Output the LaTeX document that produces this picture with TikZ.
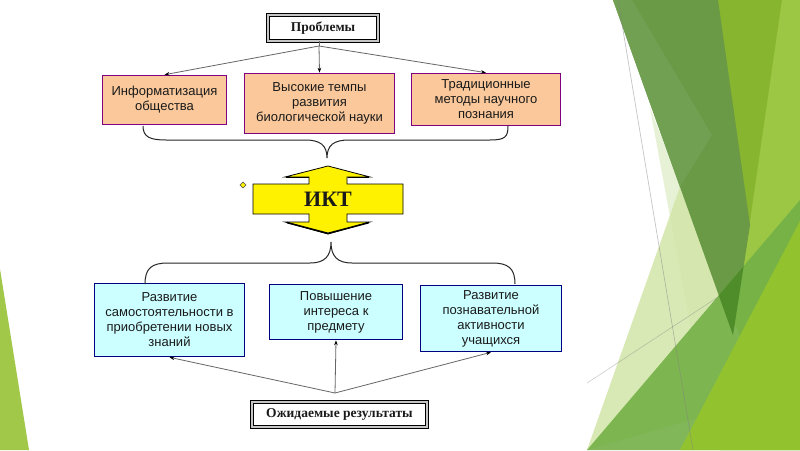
\documentclass[tikz,border=0pt]{standalone}
\usepackage{fontspec}
\setmainfont{Liberation Serif}
\newfontfamily\arialf{Liberation Sans}
\usetikzlibrary{arrows.meta}
\definecolor{orfill}{HTML}{FAC89A}
\definecolor{orline}{HTML}{800080}
\definecolor{blfill}{HTML}{CCFFFF}
\definecolor{blline}{HTML}{000080}
\definecolor{txt}{HTML}{1A1A1A}
\definecolor{gA}{HTML}{88B530}
\definecolor{gB}{HTML}{9CC744}
\definecolor{gDark}{HTML}{6A9A45}
\definecolor{gDarkL}{HTML}{72A053}
\definecolor{gPaleA}{HTML}{E6F1D6}
\definecolor{gPaleB}{HTML}{D3E6A9}
\definecolor{gMed}{HTML}{74B047}
\definecolor{gYel}{HTML}{93C22F}
\definecolor{gOver}{HTML}{4F8C2A}
\definecolor{gLeft}{HTML}{A2C84A}
\begin{document}
\begin{tikzpicture}[x=1pt,y=-1pt,
  orbox/.style={draw=orline, line width=1.6pt, fill=orfill, text=txt,
    font=\arialf\fontsize{13}{15}\selectfont, align=center, inner sep=0pt},
  blbox/.style={draw=blline, line width=1.6pt, fill=blfill, text=txt,
    font=\arialf\fontsize{13}{15}\selectfont, align=center, inner sep=0pt},
  titlebox/.style={draw=black, line width=0.9pt, double=gray!45, double distance=2.4pt,
    fill=white, text=txt, font=\bfseries\fontsize{13.5}{15}\selectfont, inner sep=0pt},
  conn/.style={draw=gray!80!black, line width=0.8pt, -{Stealth[length=5pt,width=3.6pt,black]}},
  bracel/.style={draw=black!85, line width=1pt}]
\useasboundingbox (0,0) rectangle (800,450);
\fill[white] (0,0) rectangle (800,450);

% ---- background decoration ----
\fill[gLeft] (0,269) -- (29,450) -- (0,450) -- cycle;
\fill[gA] (717,0) -- (800,0) -- (800,450) -- (720,450) -- cycle;
\fill[gB] (782,0) -- (800,0) -- (800,450) -- (730,360) -- cycle;
\fill[gPaleA] (650,108) -- (745,350) -- (713,450) -- cycle;
\fill[gPaleB, opacity=0.85] (680,187) -- (760,400) -- (587,450) -- cycle;
\fill[gDark] (613,0) -- (718,0) -- (750,225) -- (733,335) -- cycle;
\fill[gDarkL] (613,0) -- (632,0) -- (712,135) -- (680,187) -- cycle;
\fill[gMed, opacity=0.9] (587,450) -- (800,200) -- (800,450) -- cycle;
\begin{scope}
  \clip (613,0) -- (718,0) -- (750,225) -- (733,335) -- cycle;
  \fill[gOver] (587,450) -- (800,200) -- (800,450) -- cycle;
\end{scope}
\fill[gYel] (680,450) -- (800,221) -- (800,450) -- cycle;
\draw[gray, opacity=0.5, line width=0.6pt] (618,0) -- (693,450);
\draw[gray, opacity=0.4, line width=0.6pt] (587,383) -- (718,297);

% ---- titles ----
\node[titlebox, minimum width=110pt, minimum height=26pt] (t1) at (323,28) {Проблемы};
\node[titlebox, minimum width=175pt, minimum height=25pt] (t2) at (339.5,414.5) {Ожидаемые результаты};

% ---- problem boxes ----
\node[orbox, minimum width=124pt, minimum height=49pt] (p1) at (164.5,100) {Информатизация\\общества};
\node[orbox, minimum width=150pt, minimum height=60pt] (p2) at (319.5,103.5) {Высокие темпы\\развития\\биологической науки};
\node[orbox, minimum width=149pt, minimum height=52pt] (p3) at (486,99.5) {Традиционные\\методы научного\\познания};

% ---- result boxes ----
\node[blbox, minimum width=150pt, minimum height=73pt] (r1) at (169.5,320) {Развитие\\самостоятельности в\\приобретении новых\\знаний};
\node[blbox, minimum width=133pt, minimum height=55pt] (r2) at (336,312) {Повышение\\интереса к\\предмету};
\node[blbox, minimum width=141pt, minimum height=66pt] (r3) at (491,318.5) {Развитие\\познавательной\\активности\\учащихся};

% ---- connectors ----
\coordinate (j1) at (319,46);
\draw[draw=gray!80!black, line width=0.8pt] (t1.south -| j1) -- (j1);
\draw[conn] (j1) -- (p1.north);
\draw[conn] (j1) -- (p2.north);
\draw[conn] (j1) -- (p3.north);

\coordinate (j2) at (335,393);
\draw[conn] (j2) -- (r1.south);
\draw[conn] (j2) -- (r2.south);
\draw[conn] (j2) -- (r3.south);

% ---- braces ----
\coordinate (b1l) at (143,126);
\coordinate (b1t) at (327,158);
\coordinate (b1r) at (508,126);
\draw[bracel] (b1l) .. controls (143,137) and (150,140) .. (166,140) -- (305,140)
  .. controls (320,140) and (327,145) .. (b1t)
  .. controls (327,145) and (334,140) .. (349,140) -- (490,140)
  .. controls (505,140) and (508,137) .. (b1r);
\coordinate (b2l) at (145,284);
\coordinate (b2t) at (331,242);
\coordinate (b2r) at (515,284);
\draw[bracel] (b2l) .. controls (145,268) and (152,263) .. (168,263) -- (310,263)
  .. controls (325,263) and (331,256) .. (b2t)
  .. controls (331,256) and (337,263) .. (352,263) -- (492,263)
  .. controls (508,263) and (515,268) .. (b2r);

% ---- ИКТ double arrow ----
\filldraw[fill=yellow, draw=black, line width=0.8pt, line join=miter]
  (328,166) -- (370,177) -- (347,177) -- (347,184) -- (403,184) -- (403,214)
  -- (347,214) -- (347,222) -- (370,222) -- (328,234) -- (285,222) -- (309,222)
  -- (309,214) -- (253,214) -- (253,184) -- (309,184) -- (309,177) -- (285,177) -- cycle;
\draw[black, line width=1.8pt] (286,177.5) -- (308.5,177.5);
\draw[black, line width=1.8pt] (347.5,177.5) -- (369,177.5);
\draw[black, line width=1.6pt] (287,222.6) -- (328,233.4) -- (369,222.6);
\node[font=\bfseries\fontsize{22}{24}\selectfont, text=txt] (ikt) at (328,199) {ИКТ};
\filldraw[fill=yellow, draw=gray!60!black, line width=0.5pt]
  (243,182) -- (246,185) -- (243,188) -- (240,185) -- cycle;
\end{tikzpicture}
\end{document}
